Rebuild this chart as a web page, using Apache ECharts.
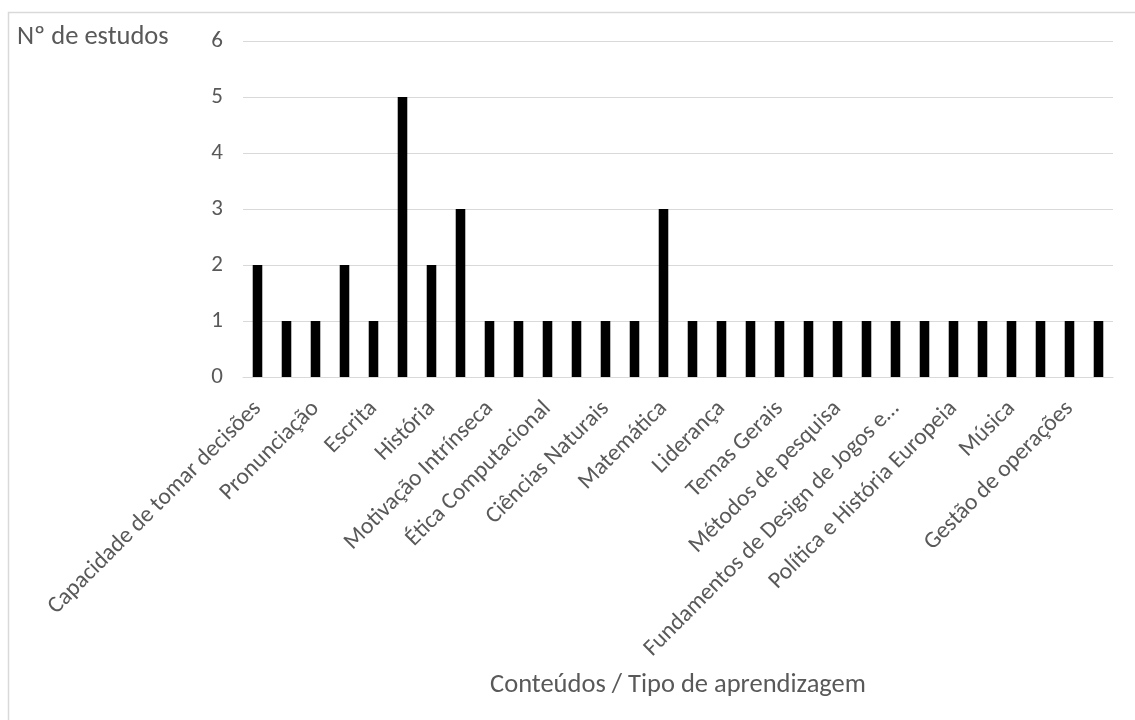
<!DOCTYPE html>
<html>
<head>
<meta charset="utf-8">
<script src="https://cdn.jsdelivr.net/npm/echarts@6/dist/echarts.min.js"></script>
<style>
  html, body { margin: 0; padding: 0; background: #fff; }
  #chart { width: 1135px; height: 720px; }
</style>
</head>
<body>
<div id="chart"></div>
<script>
// Conteúdos / tipo de aprendizagem abordados e respetivo nº de estudos
const categories = [
  'Capacidade de tomar decisões', 'Vocabulário', 'Pronunciação', 'Leitura',
  'Escrita', 'Gramática', 'História', 'Geografia',
  'Motivação Intrínseca', 'Programação', 'Ética Computacional', 'Física',
  'Ciências Naturais', 'Biologia', 'Matemática', 'Economia',
  'Liderança', 'Trabalho em equipa', 'Temas Gerais', 'Saúde',
  'Métodos de pesquisa', 'Engenharia', 'Fundamentos de Design de Jogos e Simulação', 'Marketing',
  'Política e História Europeia', 'Artes', 'Música', 'Gestão de projetos',
  'Gestão de operações', 'Sustentabilidade'
];
const estudos = [
  2, 1, 1, 2, 1, 5, 2, 3, 1, 1,
  1, 1, 1, 1, 3, 1, 1, 1, 1, 1,
  1, 1, 1, 1, 1, 1, 1, 1, 1, 1
];
const yTicks = { min: 0, max: 6, interval: 1 };
const yTitle = 'Nº de estudos';
const xTitle = 'Conteúdos / Tipo de aprendizagem';

const FONT = 'Carlito, Calibri, "Open Sans", sans-serif';
const GREY = '#595959';

// Long category names are cut short with an ellipsis on the axis
function shorten(s) {
  return s.length > 32 ? s.slice(0, 32) + '…' : s;
}

const chart = echarts.init(document.getElementById('chart'), null, { renderer: 'canvas' });
chart.setOption({
  animation: false,
  backgroundColor: '#fff',
  grid: { left: 243, right: 22, top: 41, bottom: 343, containLabel: false },
  xAxis: {
    type: 'category',
    data: categories,
    axisLine: { show: true, lineStyle: { color: '#d9d9d9', width: 1 } },
    axisTick: { show: false },
    axisLabel: {
      interval: 1,
      rotate: 45,
      margin: 28,
      color: GREY,
      fontFamily: FONT,
      fontSize: 23.5,
      formatter: shorten
    }
  },
  yAxis: {
    type: 'value',
    min: yTicks.min,
    max: yTicks.max,
    interval: yTicks.interval,
    axisLine: { show: false },
    axisTick: { show: false },
    splitLine: { lineStyle: { color: '#d9d9d9', width: 1 } },
    axisLabel: { margin: 20, color: GREY, fontFamily: FONT, fontSize: 23 }
  },
  series: [{
    type: 'bar',
    data: estudos,
    barWidth: '33%',
    itemStyle: { color: '#000' }
  }],
  graphic: [
    {
      type: 'rect',
      shape: { x: 8.5, y: 12.5, width: 1140, height: 720 },
      style: { fill: null, stroke: '#d9d9d9', lineWidth: 1.5 },
      silent: true
    },
    {
      type: 'text',
      x: 17, y: 37,
      style: { text: yTitle, fill: GREY, font: '26.5px ' + FONT, verticalAlign: 'middle' }
    },
    {
      type: 'text',
      x: 678, y: 685,
      style: { text: xTitle, fill: GREY, font: '26.5px ' + FONT, align: 'center', verticalAlign: 'middle' }
    }
  ]
});
</script>
</body>
</html>
